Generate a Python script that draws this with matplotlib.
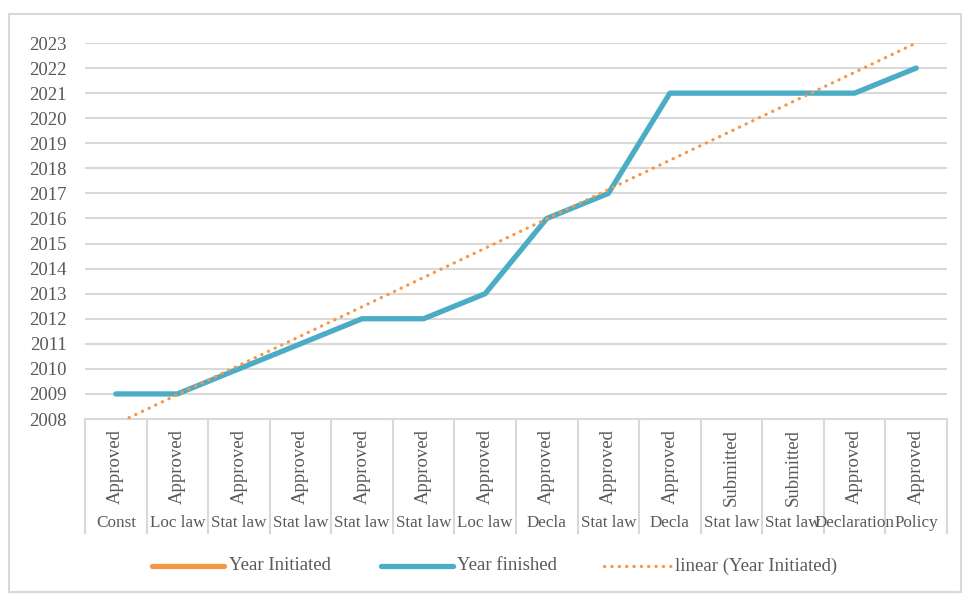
import matplotlib
matplotlib.use("Agg")
import matplotlib.pyplot as plt
from matplotlib.lines import Line2D
from matplotlib.patches import Rectangle
import matplotlib.transforms as mtransforms

# ---- data ----
categories = ["Const", "Loc law", "Stat law", "Stat law", "Stat law", "Stat law", "Loc law",
              "Decla", "Stat law", "Decla", "Stat law", "Stat law", "Declaration", "Policy"]
status = ["Approved", "Approved", "Approved", "Approved", "Approved", "Approved", "Approved",
          "Approved", "Approved", "Approved", "Submitted", "Submitted", "Approved", "Approved"]
year_finished = [2009, 2009, 2010, 2011, 2012, 2012, 2013, 2016, 2017, 2021, 2021, 2021, 2021, 2022]
# linear trend of "Year Initiated" (value at first and last category)
trend_values = [2007.8, 2023.0]
y_ticks = list(range(2008, 2024))

BLUE = "#4bacc6"
ORANGE = "#f79646"
GRID = "#d9d9d9"
TXT = "#595959"
FONT = "Liberation Serif"
FS = 13.5
FS_CAT = 12.3

W, H = 964, 595
fig = plt.figure(figsize=(W / 100, H / 100), dpi=100)
fig.patches.append(Rectangle((9 / W, 1 - 592 / H), (961 - 9) / W, (592 - 14) / H,
                             transform=fig.transFigure, fill=False, edgecolor=GRID, lw=1.5))

ax_l, ax_r, ax_t, ax_b = 85, 947, 43, 419
ax = fig.add_axes([ax_l / W, 1 - ax_b / H, (ax_r - ax_l) / W, (ax_b - ax_t) / H])
n = len(categories)
x = list(range(n))
ax.set_xlim(-0.5, n - 0.5)
ax.set_ylim(2008, 2023)
ax.set_yticks(y_ticks)
ax.set_yticklabels([str(v) for v in y_ticks], fontfamily=FONT, fontsize=FS, color=TXT)
ax.tick_params(axis="y", length=0, pad=13)
ax.set_xticks([])
for s in ["top", "right", "left"]:
    ax.spines[s].set_visible(False)
ax.spines["bottom"].set_color(GRID)
ax.spines["bottom"].set_linewidth(1.5)
for v in y_ticks[1:]:
    ax.axhline(v, color=GRID, lw=1.5, zorder=0)

ax.plot(x, year_finished, color=BLUE, lw=3.8, solid_capstyle="round",
        solid_joinstyle="round", zorder=3)
ax.plot([x[0], x[-1]], trend_values, color=ORANGE, lw=2.3, linestyle=(0, (0.1, 2.2)),
        dash_capstyle="round", zorder=4)

# category axis (two levels)
trans = mtransforms.blended_transform_factory(ax.transData, ax.transAxes)
ah = ax_b - ax_t
def ay(py):
    return (ax_b - py) / ah
for i in range(n + 1):
    ax.add_line(Line2D([i - 0.5, i - 0.5], [ay(419), ay(533)], transform=trans,
                       color=GRID, lw=1.5, clip_on=False))
for i in range(n):
    ax.text(i, ay(429), status[i], transform=trans, rotation=90, ha="center", va="top",
            fontfamily=FONT, fontsize=FS, color=TXT)
    ax.text(i, ay(523), categories[i], transform=trans, ha="center", va="center",
            fontfamily=FONT, fontsize=FS_CAT, color=TXT)

# legend
ly = 1 - 566 / H
items = [((152, 224), "Year Initiated", dict(color=ORANGE, lw=3.8, solid_capstyle="round"), 229),
         ((381, 453), "Year finished", dict(color=BLUE, lw=3.8, solid_capstyle="round"), 457),
         ((604, 671), "linear (Year Initiated)",
          dict(color=ORANGE, lw=2.3, linestyle=(0, (0.1, 2.2)), dash_capstyle="round"), 675)]
for (x0, x1), lab, kw, tx in items:
    fig.add_artist(Line2D([x0 / W, x1 / W], [ly, ly], transform=fig.transFigure, **kw))
    fig.text(tx / W, ly, lab, ha="left", va="center", fontfamily=FONT, fontsize=FS, color=TXT)

fig.savefig("out.png", dpi=100)
